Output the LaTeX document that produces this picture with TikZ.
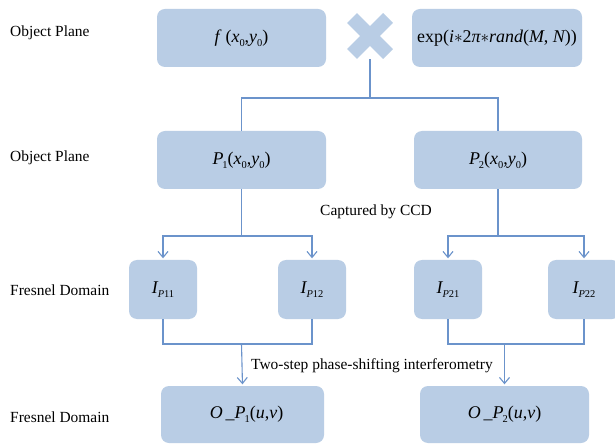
\documentclass[tikz,border=0pt]{standalone}
\usepackage{fontspec}
\setmainfont{Liberation Serif}
\usetikzlibrary{arrows.meta}
\definecolor{boxc}{HTML}{B9CDE5}
\definecolor{linec}{HTML}{6B93CB}
\newcommand{\vi}[1]{{\itshape #1}}
\newcommand{\sbs}[1]{\raisebox{-0.22em}{\fontsize{10.5}{11}\selectfont #1}}
\newcommand{\labfont}{\fontsize{15.5}{18}\selectfont}
\newcommand{\boxfont}{\fontsize{18}{20}\selectfont}
\begin{document}
\begin{tikzpicture}[x=1bp,y=-1bp,
  box/.style={fill=boxc, rounded corners=8bp, inner sep=0pt, font=\boxfont, text=black},
  bigbox/.style={box, minimum width=169bp, minimum height=58bp},
  smallbox/.style={box, minimum width=68bp, minimum height=59bp},
  conn/.style={draw=linec, line width=1.1bp},
  arr/.style={conn, -{Straight Barb[length=6bp,width=10bp]}, shorten >=1.5bp},
  lab/.style={font=\labfont, inner sep=0pt, text=black}]
\clip (0,0) rectangle (615,446);
\fill[white] (0,0) rectangle (615,446);
% side labels
\node[lab, anchor=west] (l1) at (10,33) {Object Plane};
\node[lab, anchor=west] (l2) at (10,158) {Object Plane};
\node[lab, anchor=west] (l3) at (10,290) {Fresnel Domain};
\node[lab, anchor=west] (l4) at (10,417) {Fresnel Domain};
% row 1
\node[bigbox] (f) at (241.5,38) {\vi{f}\,\,(\vi{x}\sbs{0},\vi{y}\sbs{0})\hspace{16bp}};
\node[box, minimum width=170bp, minimum height=58bp] (e) at (497,38)
  {exp(\vi{i}$\ast$2\vi{π}$\ast$\vi{rand}(\vi{M}, \vi{N}))};
\node[inner sep=0pt, minimum width=47bp, minimum height=46bp] (cross) at (370,36) {};
\draw[boxc, line width=14bp, line cap=butt, shift={(cross.center)}] (-18,-18) -- (18,18);
\draw[boxc, line width=14bp, line cap=butt, shift={(cross.center)}] (-18,18) -- (18,-18);
% row 2
\node[bigbox] (p1) at (241.5,160) {\vi{P}\kern-1bp\sbs{1}(\vi{x}\sbs{0},\vi{y}\sbs{0})};
\node[box, minimum width=168bp, minimum height=58bp] (p2) at (498,160) {\vi{P}\kern-1bp\sbs{2}(\vi{x}\sbs{0},\vi{y}\sbs{0})};
\node[lab] (ccd) at (376,212) {Captured by CCD};
% row 3
\node[smallbox] (i11) at (163,289.5) {\vi{I}\sbs{\vi{P}11}};
\node[smallbox] (i12) at (312,289.5) {\vi{I}\sbs{\vi{P}12}};
\node[smallbox] (i21) at (448,289.5) {\vi{I}\sbs{\vi{P}21}};
\node[box, minimum width=72bp, minimum height=59bp] (i22) at (584,289.5) {\vi{I}\sbs{\vi{P}22}};
\node[lab] (tsp) at (372,366) {Two-step phase-shifting interferometry};
% row 4
\node[box, minimum width=163bp, minimum height=57bp] (o1) at (242.5,414.5) {\hspace{8bp}\vi{O}\,\_\vi{P}\kern-1bp\sbs{1}(\vi{u},\vi{v})};
\node[bigbox, minimum height=57bp] (o2) at (504.5,414.5) {\vi{O}\,\_\vi{P}\kern-1bp\sbs{2}(\vi{u},\vi{v})};
% junctions
\coordinate (j1) at (cross.south |- 0,98);
\coordinate (j2) at (p1.south |- 0,236);
\coordinate (j3) at (p2.south |- 0,236);
\coordinate (j4) at (241.5,344);
\coordinate (j5) at (504.5,344);
% connectors
\draw[conn] (cross.south) -- (j1);
\draw[conn] (p1.north) |- (j1) -| (p2.north);
\draw[conn] (p1.south) -- (j2);
\draw[arr] (j2) -| (i11.north);
\draw[arr] (j2) -| (i12.north);
\draw[conn] (p2.south) -- (j3);
\draw[arr] (j3) -| (i21.north);
\draw[arr] (j3) -| (i22.north);
\draw[conn] (i11.south) |- (j4) -| (i12.south);
\draw[arr] (j4) -- (o1.north);
\draw[conn] (i21.south) |- (j5) -| (i22.south);
\draw[arr] (j5) -- (o2.north);
\end{tikzpicture}
\end{document}
